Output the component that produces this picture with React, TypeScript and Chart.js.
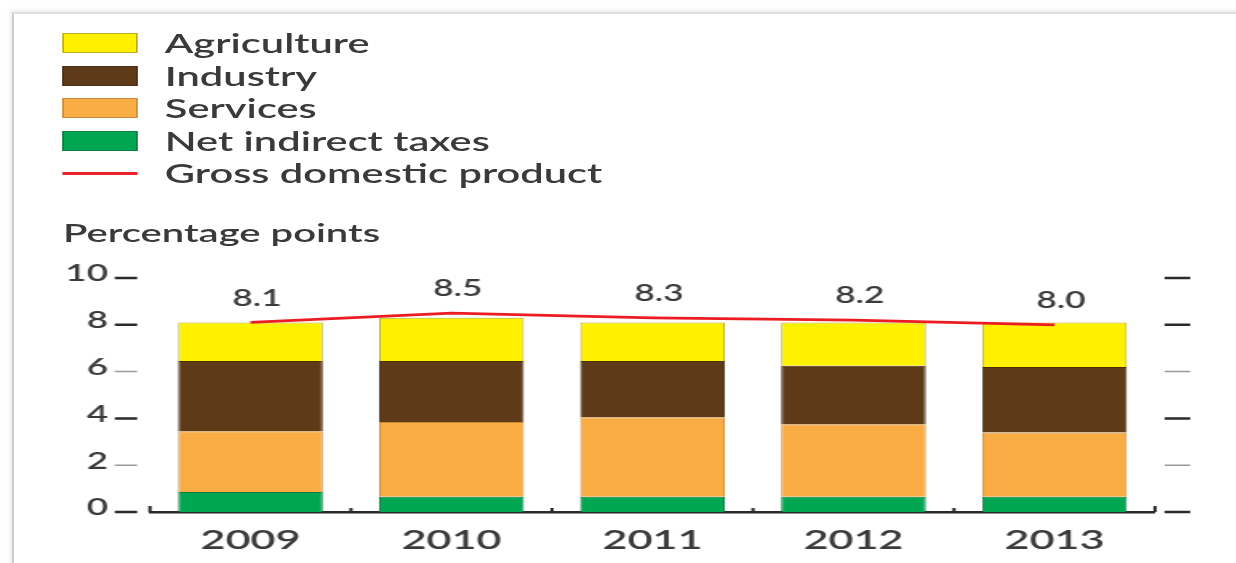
import React, { useEffect, useRef } from "react";
import { Chart, registerables } from "chart.js";

Chart.register(...registerables);

// ---- data ----
const years = ["2009", "2010", "2011", "2012", "2013"];
const netIndirectTaxes = [0.85, 0.65, 0.65, 0.65, 0.65];
const services = [2.6, 3.2, 3.4, 3.1, 2.75];
const industry = [3.0, 2.6, 2.4, 2.5, 2.8];
const agriculture = [1.65, 1.85, 1.65, 1.85, 1.9];
const gdp = [8.1, 8.5, 8.3, 8.2, 8.0];
const yTicks = [0, 2, 4, 6, 8, 10];

const legendItems = [
  { label: "Agriculture", color: "#FFF100", border: "#b8ad2a", kind: "box" },
  { label: "Industry", color: "#5E3A19", border: "#4a2e12", kind: "box" },
  { label: "Services", color: "#F9AC43", border: "#c98a3a", kind: "box" },
  { label: "Net indirect taxes", color: "#00A651", border: "#0b7d40", kind: "box" },
  { label: "Gross domestic product", color: "#E8232A", border: "#E8232A", kind: "line" },
];

// ---- layout (unscaled coordinates; the whole figure is stretched horizontally) ----
const SX = 1.6;
const W = 773;
const H = 563;
const FONT = "Lato, 'Noto Sans', sans-serif";
const WEIGHT = "600";
const TEXT = "#3a3a3a";

const decorPlugin = {
  id: "decor",
  afterDatasetsDraw(chart: any) {
    const { ctx, chartArea, scales } = chart;
    const xs = scales.x;
    const ys = scales.y;
    ctx.save();

    // value labels above the GDP line
    const meta = chart.getDatasetMeta(4);
    ctx.font = `${WEIGHT} 22px ${FONT}`;
    ctx.fillStyle = TEXT;
    ctx.textAlign = "center";
    ctx.textBaseline = "middle";
    meta.data.forEach((pt: any, i: number) => {
      ctx.fillText(gdp[i].toFixed(1), pt.x + 4, pt.y - 24);
    });

    // dashes on both sides
    yTicks.forEach((v) => {
      const py = ys.getPixelForValue(v);
      const strong = v % 4 === 0 || v === 10;
      ctx.strokeStyle = strong ? "#2a2a2a" : "#9a9a9a";
      ctx.lineWidth = strong ? 2.5 : 1.5;
      ctx.beginPath();
      ctx.moveTo(chartArea.left - 22, py);
      ctx.lineTo(chartArea.left - 8, py);
      ctx.moveTo(chartArea.right + 6, py);
      ctx.lineTo(chartArea.right + 22, py);
      ctx.stroke();
    });

    // small inward ticks on the category axis
    const half = (xs.getPixelForValue(1) - xs.getPixelForValue(0)) / 2;
    ctx.strokeStyle = "#2a2a2a";
    ctx.lineWidth = 2;
    for (let i = 0; i <= years.length; i++) {
      const px = i < years.length ? xs.getPixelForValue(i) - half : xs.getPixelForValue(years.length - 1) + half;
      const len = i === 0 || i === years.length ? 6 : 4;
      ctx.beginPath();
      ctx.moveTo(px, chartArea.bottom);
      ctx.lineTo(px, chartArea.bottom - len);
      ctx.stroke();
    }
    ctx.restore();
  },
};

export default function App() {
  const ref = useRef<HTMLCanvasElement | null>(null);

  useEffect(() => {
    if (!ref.current) return;
    const chart = new Chart(ref.current, {
      type: "bar",
      data: {
        labels: years,
        datasets: [
          { label: "Net indirect taxes", data: netIndirectTaxes, backgroundColor: "#00A651", borderColor: "#0b7d40", borderWidth: 1, stack: "bars", order: 1 },
          { label: "Services", data: services, backgroundColor: "#F9AC43", borderColor: "#c98a3a", borderWidth: 1, stack: "bars", order: 1 },
          { label: "Industry", data: industry, backgroundColor: "#5E3A19", borderColor: "#4a2e12", borderWidth: 1, stack: "bars", order: 1 },
          { label: "Agriculture", data: agriculture, backgroundColor: "#FFF100", borderColor: "#b8ad2a", borderWidth: 1, stack: "bars", order: 1 },
          {
            type: "line",
            label: "Gross domestic product",
            data: gdp,
            borderColor: "#EC1C24",
            borderWidth: 2.8,
            pointRadius: 0,
            tension: 0,
            stack: "line",
            order: 0,
          } as any,
        ],
      },
      options: {
        responsive: false,
        animation: false,
        devicePixelRatio: 1,
        layout: { padding: { left: 0, right: 51.1, top: 278, bottom: 0 } },
        plugins: { legend: { display: false }, tooltip: { enabled: false }, title: { display: false } },
        datasets: { bar: { categoryPercentage: 1, barPercentage: 0.72, borderSkipped: "start" } } as any,
        scales: {
          x: {
            stacked: true,
            offset: true,
            grid: { display: false, drawTicks: false },
            border: { display: true, color: "#2a2a2a", width: 2.5 },
            ticks: { color: TEXT, font: { family: FONT, size: 27, weight: WEIGHT }, padding: 12 },
            afterFit: (s: any) => { s.height = 51; },
          },
          y: {
            stacked: true,
            min: 0,
            max: 10,
            ticks: { stepSize: 2, color: TEXT, font: { family: FONT, size: 23, weight: WEIGHT }, padding: 26.25, labelOffset: -4 },
            grid: { display: false, drawTicks: false },
            border: { display: false },
            afterFit: (s: any) => { s.width = 93.75; },
          },
        },
      },
      plugins: [decorPlugin],
    });
    return () => chart.destroy();
  }, []);

  const rowBaseline = [53, 85.5, 118, 150.5, 183];

  return (
    <div style={{ position: "fixed", left: 0, top: 0, width: 1236, height: 563, background: "#fff", overflow: "hidden" }}>
      <div
        style={{
          position: "absolute",
          left: 12,
          top: 12,
          width: 1400,
          height: 700,
          borderLeft: "2px solid #cdcdcd",
          borderTop: "2px solid #e0e0e0",
          boxShadow: "-2px -2px 4px rgba(0,0,0,0.08)",
        }}
      />
      <div style={{ position: "absolute", left: 0, top: 0, width: W, height: H, transform: `scaleX(${SX})`, transformOrigin: "0 0" }}>
        <canvas ref={ref} width={W} height={H} style={{ position: "absolute", left: 0, top: 0 }} />
        {legendItems.map((it, i) => (
          <React.Fragment key={it.label}>
            {it.kind === "box" ? (
              <div
                style={{
                  position: "absolute",
                  left: 39.4,
                  top: rowBaseline[i] - 20,
                  width: 46.2,
                  height: 20,
                  boxSizing: "border-box",
                  background: it.color,
                  border: `1px solid ${it.border}`,
                }}
              />
            ) : (
              <div style={{ position: "absolute", left: 39.4, top: rowBaseline[i] - 11.5, width: 46.2, height: 3, background: it.color }} />
            )}
            <div
              style={{
                position: "absolute",
                left: 103,
                top: rowBaseline[i] - 25,
                fontFamily: FONT,
                fontWeight: WEIGHT as any,
                fontSize: 26,
                lineHeight: "30px",
                color: TEXT,
                whiteSpace: "nowrap",
              }}
            >
              {it.label}
            </div>
          </React.Fragment>
        ))}
        <div
          style={{
            position: "absolute",
            left: 39.4,
            top: 217,
            fontFamily: FONT,
            fontWeight: WEIGHT as any,
            fontSize: 25,
            lineHeight: "30px",
            color: TEXT,
            whiteSpace: "nowrap",
          }}
        >
          Percentage points
        </div>
      </div>
    </div>
  );
}
